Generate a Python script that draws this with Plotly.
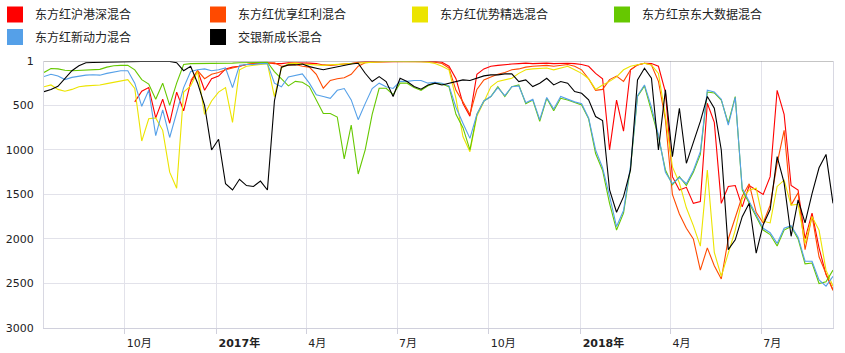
import pandas as pd
import plotly.graph_objects as go

# weekly observation dates
dates = pd.date_range("2016-07-12", periods=114, freq="7D")

names = ["东方红沪港深混合", "东方红优享红利混合", "东方红优势精选混合",
         "东方红京东大数据混合", "东方红新动力混合", "交银新成长混合"]
colors = ["#ff0000", "#ff4a00", "#ece400", "#66c800", "#55a0e8", "#000000"]

N = None
red = [N]*13 + [460, 340, 300, 640, 430, 700, 350, 560, 240, 110, 330, 200, 170, 90, 70, 60, 40, 30, 30, 20,
       30, 30, 20, 20, 20, 25, 30, 45, 50, 40, 35, 30, 15, 10, 8, 5, 5, 5, 5, 5, 5, 5, 5, 8, 15, 60, 200,
       480, 620, 150, 90, 60, 50, 40, 35, 30, 25, 30, 25, 25, 30, 26, 26, 30, 40, 60, 140, 200, 1000, 440,
       790, 100, 45, 26, 30, 60, 350, 1300, 1450, 1420, 1600, 1580, 475, 690, 1600, 1410, 1400, 1640, 1400,
       1450, 1500, 1300, 330, 600, 1400, 1450, 2000, 1710, 2100, 2400, 2570]
orange = [N]*21 + [220, 110, 200, 150, 130, 100, 80, 60, 40, 30, 25, 20, 20, 60, 50, 40, 60, 70, 150, 307,
       220, 200, 190, 150, 60, 20, 15, 10, 8, 8, 5, 5, 5, 8, 10, 15, 30, 80, 330, 460, 600, 320, 213, 180,
       150, 130, 100, 90, 70, 60, 55, 50, 60, 50, 40, 60, 100, 200, 330, 320, 210, 170, 230, 100, 45, 26,
       45, 230, 660, 1500, 1720, 1880, 2000, 2350, 2100, 2300, 2450, 2000, 1760, 1520, 1380, 1700, 1820,
       1620, 1150, 780, 1620, 1480, 2120, 1740, 2200, 2400, 2580]
yellow = [290, 270, 320, 340, 320, 290, 280, 275, 270, 255, 240, 220, 210, 310, 900, 650, 640, 780, 1250,
       1430, 350, 280, 120, 600, 450, 350, 300, 690, 100, 60, 50, 40, 30, 400, 80, 30, 25, 35, 40, 45, 50,
       45, 40, 35, 30, 20, 15, 10, 8, 5, 5, 5, 5, 5, 10, 15, 30, 60, 100, 420, 850, 1020, 620, 460, 290,
       230, 210, 195, 140, 100, 90, 85, 80, 100, 80, 60, 100, 140, 200, 320, 270, 230, 180, 100, 60, 40,
       26, 45, 140, 620, 1190, 1370, 1650, 1850, 2080, 1225, 2150, 2420, 2150, 1900, 1550, 1450, 1430,
       1800, 1820, 1410, 1340, 1620, 1610, 2050, 1750, 1900, 2350, 2530]
green = [130, 85, 90, 105, 110, 105, 100, 100, 95, 70, 55, 50, 50, 100, 210, 260, 430, 250, 500, 250, 40,
       30, 30, 30, 30, 25, 25, 25, 20, 20, 20, 15, 15, 120, 200, 280, 230, 240, 288, 438, 590, 590, 630,
       1100, 720, 1270, 1000, 600, 307, 307, 380, 250, 250, 300, 330, 280, 250, 260, 290, 600, 750, 1000,
       600, 450, 400, 290, 400, 290, 270, 480, 440, 680, 420, 560, 420, 440, 470, 494, 650, 1040, 1230,
       1600, 1900, 1710, 1200, 400, 280, 550, 850, 1225, 1390, 1300, 1400, 1250, 1050, 350, 360, 440, 700,
       400, 1450, 1600, 1750, 1900, 1950, 2080, 1900, 1860, 2000, 2280, 2270, 2500, 2480, 2350]
blue = [175, 150, 170, 210, 185, 170, 160, 155, 160, 140, 125, 110, 110, 250, 510, 330, 840, 550, 860, 580,
       300, 120, 100, 90, 110, 100, 80, 300, 50, 40, 40, 30, 30, 250, 290, 180, 160, 146, 250, 380, 400,
       420, 330, 310, 438, 660, 480, 310, 250, 290, 310, 230, 230, 220, 220, 250, 240, 250, 280, 520, 700,
       870, 600, 450, 400, 300, 390, 290, 280, 470, 430, 660, 410, 540, 400, 430, 460, 480, 640, 1000,
       1200, 1520, 1860, 1680, 1180, 390, 270, 520, 830, 1250, 1380, 1310, 1380, 1230, 1020, 330, 350,
       430, 720, 410, 1430, 1580, 1730, 1880, 1930, 2050, 1880, 1850, 1980, 2250, 2250, 2460, 2530, 2420]
black = [345, 320, 285, 200, 110, 55, 20, 18, 15, 14, 12, 10, 8, 5, 5, 5, 3, 3, 5, 20, 110, 60, 250, 500,
       1000, 880, 1380, 1450, 1330, 1400, 1410, 1350, 1450, 450, 70, 45, 45, 34, 64, 82, 100, 82, 64, 45,
       34, 26, 139, 232, 176, 232, 400, 195, 232, 288, 318, 270, 250, 270, 250, 232, 213, 220, 195, 168,
       157, 157, 146, 146, 232, 213, 288, 250, 195, 270, 232, 250, 345, 363, 438, 625, 670, 1450, 1700,
       1525, 1225, 213, 82, 195, 1000, 325, 1075, 532, 1150, 925, 680, 400, 532, 1000, 2120, 2010, 1750,
       1600, 2160, 1840, 1670, 1075, 1370, 1970, 1560, 1820, 1490, 1200, 1050, 1600]

series = [red, orange, yellow, green, blue, black]
legend_ids = ["legend", "legend2", "legend3", "legend4", "legend5", "legend6"]

tick_dates = ["2016-10-01", "2017-01-01", "2017-04-01", "2017-07-01",
              "2017-10-01", "2018-01-01", "2018-04-01", "2018-07-01"]
tick_text = ["10月", "<b>2017年</b>", "4月", "7月", "10月", "<b>2018年</b>", "4月", "7月"]
y_ticks = [1, 500, 1000, 1500, 2000, 2500, 3000]

FONT = "DejaVu Sans, Noto Sans CJK SC, sans-serif"

fig = go.Figure()
for name, col, vals in zip(names, colors, series):
    fig.add_trace(go.Scatter(x=dates, y=vals, mode="lines", name=name, legendgroup=name,
                             showlegend=False, line=dict(color=col, width=1.1),
                             connectgaps=False))
for name, col, lg in zip(names, colors, legend_ids):
    fig.add_trace(go.Scatter(x=[None], y=[None], mode="markers", name=name, legendgroup=name,
                             legend=lg, marker=dict(symbol="square", size=16, color=col)))

leg_common = dict(orientation="h", xref="paper", yref="container",
                  xanchor="left", yanchor="top",
                  font=dict(family=FONT, size=12, color="#222222"), itemwidth=30,
                  bgcolor="rgba(0,0,0,0)")
# legend block origins (paper x) for the four columns and two rows
col_x = [-0.0621, 0.1952, 0.4512, 0.7072]
row_y = [1.0, 0.936]
slots = [(0, 0), (1, 0), (2, 0), (3, 0), (0, 1), (1, 1)]
legend_layout = {lg: dict(x=col_x[c], y=row_y[r], **leg_common)
                 for lg, (c, r) in zip(legend_ids, slots)}

fig.update_layout(
    width=845, height=353,
    margin=dict(l=44, r=12, t=61, b=25, autoexpand=False),
    paper_bgcolor="white", plot_bgcolor="white",
    font=dict(family=FONT, size=11, color="#333333"),
    **legend_layout,
    xaxis=dict(type="date", range=["2016-07-12", "2018-09-11"], tickmode="array",
               tickvals=tick_dates, ticktext=tick_text, showgrid=True, gridcolor="#e2e2ea",
               gridwidth=1, showline=True, linecolor="#d0d0dc", linewidth=1,
               ticks="outside", ticklen=5, tickcolor="#d0d0dc",
               ticklabelposition="outside right", ticklabelstandoff=5, ticklabelshift=1,
               tickfont=dict(size=11, color="#222222"), zeroline=False),
    yaxis=dict(range=[3000, 1], tickmode="array", tickvals=y_ticks, showgrid=True,
               gridcolor="#e2e2ea", gridwidth=1, showline=True, mirror=True, linecolor="#d8d8e2",
               ticks="", ticklabelstandoff=7, tickfont=dict(size=11, color="#222222"),
               zeroline=False),
    shapes=[dict(type="line", xref="paper", x0=0, x1=1, yref="y", y0=1, y1=1,
                 line=dict(color="#8c8c8c", width=1))],
)

fig.write_html("out.html")
